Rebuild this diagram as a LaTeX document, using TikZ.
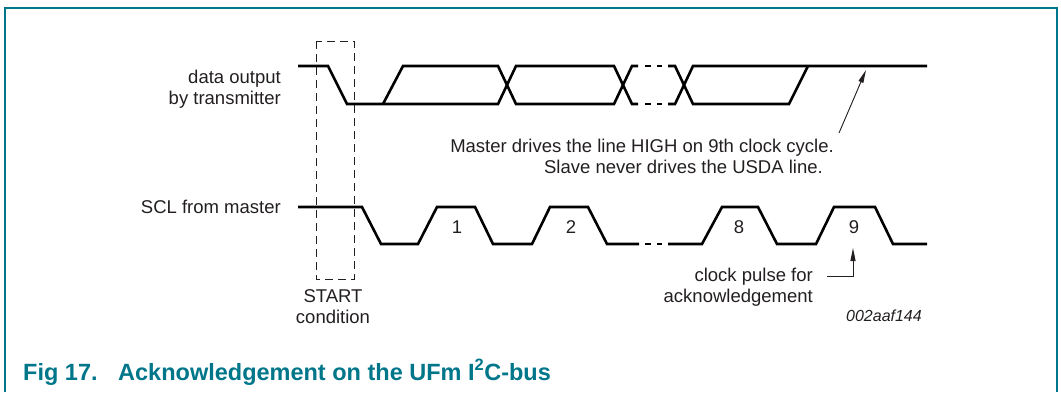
\documentclass[tikz,border=0pt]{standalone}
\usepackage{fontspec}
\setmainfont{Liberation Sans}
\usetikzlibrary{arrows.meta}
\definecolor{nxpteal}{RGB}{0,118,138}
\definecolor{ink}{RGB}{35,31,32}
\begin{document}
\begin{tikzpicture}[x=1pt,y=-1pt,
  wave/.style={line width=2.6pt,line join=miter,black},
  startbox/.style={line width=0.9pt,ink,dash pattern=on 8pt off 5pt},
  lbl/.style={inner sep=0pt,text=ink,font=\fontsize{18.5}{21}\selectfont},
  note/.style={line width=0.9pt,ink,-{Triangle[length=13pt,width=5pt]}},
  captxt/.style={inner sep=0pt,text=nxpteal,font=\fontsize{23.5}{26}\selectfont\bfseries}]
\useasboundingbox (0,0) rectangle (1061,392);
% frame
\draw[nxpteal,line width=1.6pt] (5,392) -- (5,8) -- (1057,8) -- (1057,392);
% START box
\draw[startbox] (316,41) rectangle (354,279);
% data waveform
\draw[wave] (298,66) -- (328,66) -- (347,104) -- (498,104) -- (516,66) -- (614,66) -- (632,104) -- (638,104);
\draw[wave] (383,104) -- (403,66) -- (498,66) -- (516,104) -- (614,104) -- (632,66) -- (638,66);
\draw[wave] (645,66) -- (651,66) (657,66) -- (662,66) (645,104) -- (651,104) (657,104) -- (662,104);
\draw[wave] (668,66) -- (675,66) -- (693,104) -- (789,104) -- (808,66);
\draw[wave] (668,104) -- (675,104) -- (693,66) -- (927,66);
% clock waveform
\draw[wave] (298,207) -- (362,207) -- (381,244) -- (418,244) -- (437,207) -- (475,207) -- (493,244) -- (532,244) -- (550,207) -- (588,207) -- (607,244) -- (639,244);
\draw[wave] (645,244) -- (651,244) (657,244) -- (662,244);
\draw[wave] (668,244) -- (702,244) -- (722,207) -- (758,207) -- (777,244) -- (816,244) -- (834,207) -- (875,207) -- (893,244) -- (927,244);
% labels
\node[lbl,anchor=base east] (d1) at (281,83) {data output};
\node[lbl,anchor=base east] (d2) at (281,104) {by transmitter};
\node[lbl,anchor=base east] (scl) at (281,213) {SCL from master};
\node[lbl,anchor=base] (st1) at (333,302) {START};
\node[lbl,anchor=base] (st2) at (333,323) {condition};
\node[lbl,anchor=base] (n1) at (457,233) {1};
\node[lbl,anchor=base] (n2) at (571,233) {2};
\node[lbl,anchor=base] (n8) at (739,233) {8};
\node[lbl,anchor=base] (n9) at (854,233) {9};
\node[lbl,anchor=base east] (m1) at (834,152) {Master drives the line HIGH on 9th clock cycle.};
\node[lbl,anchor=base east] (m2) at (823,173) {Slave never drives the USDA line.};
\node[lbl,anchor=base east] (c1) at (813,281) {clock pulse for};
\node[lbl,anchor=base east] (c2) at (813,302) {acknowledgement};
\node[inner sep=0pt,text=ink,font=\fontsize{16}{18}\selectfont\itshape,anchor=base east] (id) at (922,321) {002aaf144};
% annotation arrows
\coordinate (a1s) at (839,133);
\coordinate (a1e) at (866,70);
\draw[note] (a1s) -- (a1e);
\coordinate (a2s) at (827,276);
\coordinate (a2e) at (853,248);
\draw[note] (a2s) -| (a2e);
% caption
\node[captxt,anchor=base west] (fig) at (23,380) {Fig 17.};
\node[captxt,anchor=base west] (title) at (118,380) {Acknowledgement on the UFm I\textsuperscript{2}C-bus};
\end{tikzpicture}
\end{document}
